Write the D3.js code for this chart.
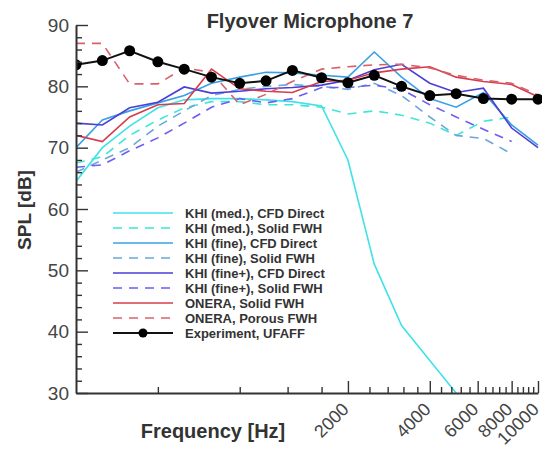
<!DOCTYPE html>
<html>
<head>
<meta charset="utf-8">
<script src="https://cdn.jsdelivr.net/npm/d3@7"></script>
<style>
  body { margin: 0; background: #fff; }
  text { font-family: "Liberation Sans", Arial, Helvetica, sans-serif; }
</style>
</head>
<body>
<svg id="chart" width="542" height="450"></svg>
<script>
// 1/3-octave band centre frequencies [Hz]
const freqs = [200, 250, 315, 400, 500, 630, 800, 1000, 1250, 1600, 2000, 2500, 3150, 4000, 5000, 6300, 8000, 10000];

// SPL [dB] per band (null = no value)
const khiMedCfd      = [64.5, 70, 73.5, 76.5, 77.8, 78, 78, 77.8, 77.5, 76.8, 68, 51, 41, 35.3, 30, null, null, null];
const khiMedFwh      = [67.5, 68.5, 72, 74.5, 76.5, 77.5, 77.5, 77, 77, 76.6, 75.5, 76, 75.3, 74, 72, 74.3, 75, null];
const khiFineCfd     = [70, 74.5, 76, 77.3, 78.5, 80.5, 81.5, 82.3, 82.2, 81.8, 81.5, 85.6, 81.5, 78, 76.6, 79, 73.7, 70.4];
const khiFineFwh     = [66, 68, 70, 73.5, 76, 78.5, 79.5, 80, 80.3, 80, 79.5, 80.5, 78.5, 75, 72, 71.5, 69, null];
const khiFinePlusCfd = [74, 73.7, 76.5, 77.4, 79.9, 78.9, 79.2, 79.6, 79.8, 80.2, 81, 82.7, 83.6, 80.5, 79, 79.7, 73.2, 70];
const khiFinePlusFwh = [66.8, 67.2, 69.5, 71.6, 74, 76.6, 78, 77.3, 78, 79.8, 79.8, 80.2, 79.5, 77, 75, 73, 71, null];
const oneraSolid     = [72, 71, 75, 77, 77.2, 82.8, 79.6, 79.2, 79, 80.8, 81, 82.2, 82.8, 83.2, 81.5, 80.8, 80.3, 78.3];
const oneraPorous    = [87, 87, 80.4, 80.4, 83, 82.3, 77, 78.7, 80.8, 82.8, 83.2, 83.5, 83.6, 83, 81.8, 81, 80.5, 78.6];
const experiment     = [83.5, 84.2, 85.8, 84.0, 82.8, 81.5, 80.5, 80.9, 82.6, 81.4, 80.6, 81.8, 80.0, 78.5, 78.8, 78.0, 77.9, 77.9];

const seriesNames = [
  "KHI (med.), CFD Direct",
  "KHI (med.), Solid FWH",
  "KHI (fine), CFD Direct",
  "KHI (fine), Solid FWH",
  "KHI (fine+), CFD Direct",
  "KHI (fine+), Solid FWH",
  "ONERA, Solid FWH",
  "ONERA, Porous FWH",
  "Experiment, UFAFF"
];
const seriesValues = [khiMedCfd, khiMedFwh, khiFineCfd, khiFineFwh, khiFinePlusCfd, khiFinePlusFwh, oneraSolid, oneraPorous, experiment];

const yMajor = [30, 40, 50, 60, 70, 80, 90];
const xMajor = [2000, 4000, 6000, 8000, 10000];

// styles per series (same order as seriesNames)
const styles = [
  { color: "#3fe2e8", dash: null },
  { color: "#3fe6d8", dash: "9,7" },
  { color: "#3aa0e6", dash: null },
  { color: "#6aa8d8", dash: "9,7" },
  { color: "#4a3fd4", dash: null },
  { color: "#6d5ef2", dash: "9,7" },
  { color: "#d63c4c", dash: null },
  { color: "#d8626c", dash: "9,7" },
  { color: "#111111", dash: null }
];

const svg = d3.select("#chart");
const plot = { left: 76, right: 542, top: 25, bottom: 393 };

const x = d3.scaleLog().domain([200, 10000]).range([76, 538]);
const y = d3.scaleLinear().domain([30, 90]).range([393, 25]);

const xMinor = d3.range(400, 10001, 400).filter(v => !xMajor.includes(v));
const yMinor = d3.range(32, 90, 2).filter(v => !yMajor.includes(v));

svg.append("defs").append("clipPath").attr("id", "clip")
  .append("rect")
  .attr("x", plot.left).attr("y", plot.top)
  .attr("width", plot.right - plot.left).attr("height", plot.bottom - plot.top);

// curves
const line = d3.line()
  .defined(d => d[1] != null)
  .x(d => x(d[0]))
  .y(d => y(d[1]));

const curves = svg.append("g").attr("clip-path", "url(#clip)");
seriesValues.forEach((vals, i) => {
  const pts = freqs.map((f, j) => [f, vals[j]]);
  curves.append("path")
    .datum(pts)
    .attr("d", line)
    .attr("fill", "none")
    .attr("stroke", styles[i].color)
    .attr("stroke-width", i === 8 ? 2 : 1.6)
    .attr("stroke-dasharray", styles[i].dash);
});
curves.selectAll("circle.exp")
  .data(freqs.map((f, j) => [f, experiment[j]]))
  .join("circle")
  .attr("class", "exp")
  .attr("cx", d => x(d[0]))
  .attr("cy", d => y(d[1]))
  .attr("r", 5.5)
  .attr("fill", "#000");

// axes
const styleAxis = g => {
  g.select(".domain").attr("stroke", "#333").attr("stroke-width", 2);
  g.selectAll(".tick line").attr("stroke", "#333").attr("stroke-width", 1.4);
};

svg.append("g")
  .attr("transform", `translate(0,${plot.bottom})`)
  .call(d3.axisBottom(x).tickValues(xMinor).tickSize(-6).tickSizeOuter(0).tickFormat(""))
  .call(styleAxis);

svg.append("g")
  .attr("transform", `translate(0,${plot.bottom})`)
  .call(d3.axisBottom(x).tickValues(xMajor).tickSize(-12).tickSizeOuter(0).tickFormat(d3.format("d")))
  .call(styleAxis)
  .call(g => g.select(".domain").remove())
  .call(g => g.selectAll(".tick text")
    .attr("y", null).attr("dy", "0.35em")
    .attr("transform", "translate(-3,13) rotate(-45)")
    .attr("text-anchor", "end")
    .attr("font-size", 18)
    .attr("fill", "#444"));

svg.append("g")
  .attr("transform", `translate(${plot.left},0)`)
  .call(d3.axisLeft(y).tickValues(yMinor).tickSize(-6).tickSizeOuter(0).tickFormat(""))
  .call(styleAxis);

svg.append("g")
  .attr("transform", `translate(${plot.left},0)`)
  .call(d3.axisLeft(y).tickValues(yMajor).tickSize(-12).tickSizeOuter(0).tickPadding(7))
  .call(styleAxis)
  .call(g => g.select(".domain").remove())
  .call(g => g.selectAll(".tick text")
    .attr("font-size", 19)
    .attr("fill", "#444"));

// titles
svg.append("text")
  .attr("x", 310).attr("y", 28)
  .attr("text-anchor", "middle")
  .attr("font-size", 20).attr("font-weight", "bold")
  .attr("fill", "#333")
  .text("Flyover Microphone 7");

svg.append("text")
  .attr("transform", "translate(31,210) rotate(-90)")
  .attr("text-anchor", "middle")
  .attr("font-size", 19).attr("font-weight", "bold")
  .attr("fill", "#333")
  .text("SPL [dB]");

svg.append("text")
  .attr("x", 213).attr("y", 438)
  .attr("text-anchor", "middle")
  .attr("font-size", 20).attr("font-weight", "bold")
  .attr("fill", "#333")
  .text("Frequency [Hz]");

// legend
const legend = svg.append("g").attr("transform", "translate(113,213)");
const row = legend.selectAll("g")
  .data(seriesNames)
  .join("g")
  .attr("transform", (d, i) => `translate(0,${i * 15})`);
row.append("line")
  .attr("x1", 0).attr("x2", 60)
  .attr("stroke", (d, i) => styles[i].color)
  .attr("stroke-width", (d, i) => i === 8 ? 2 : 1.6)
  .attr("stroke-dasharray", (d, i) => styles[i].dash);
row.filter((d, i) => i === 8).append("circle")
  .attr("cx", 30).attr("r", 4.5).attr("fill", "#000");
row.append("text")
  .attr("x", 72).attr("dy", "0.35em")
  .attr("font-size", 13).attr("font-weight", "bold")
  .attr("fill", "#333")
  .text(d => d);
</script>
</body>
</html>
